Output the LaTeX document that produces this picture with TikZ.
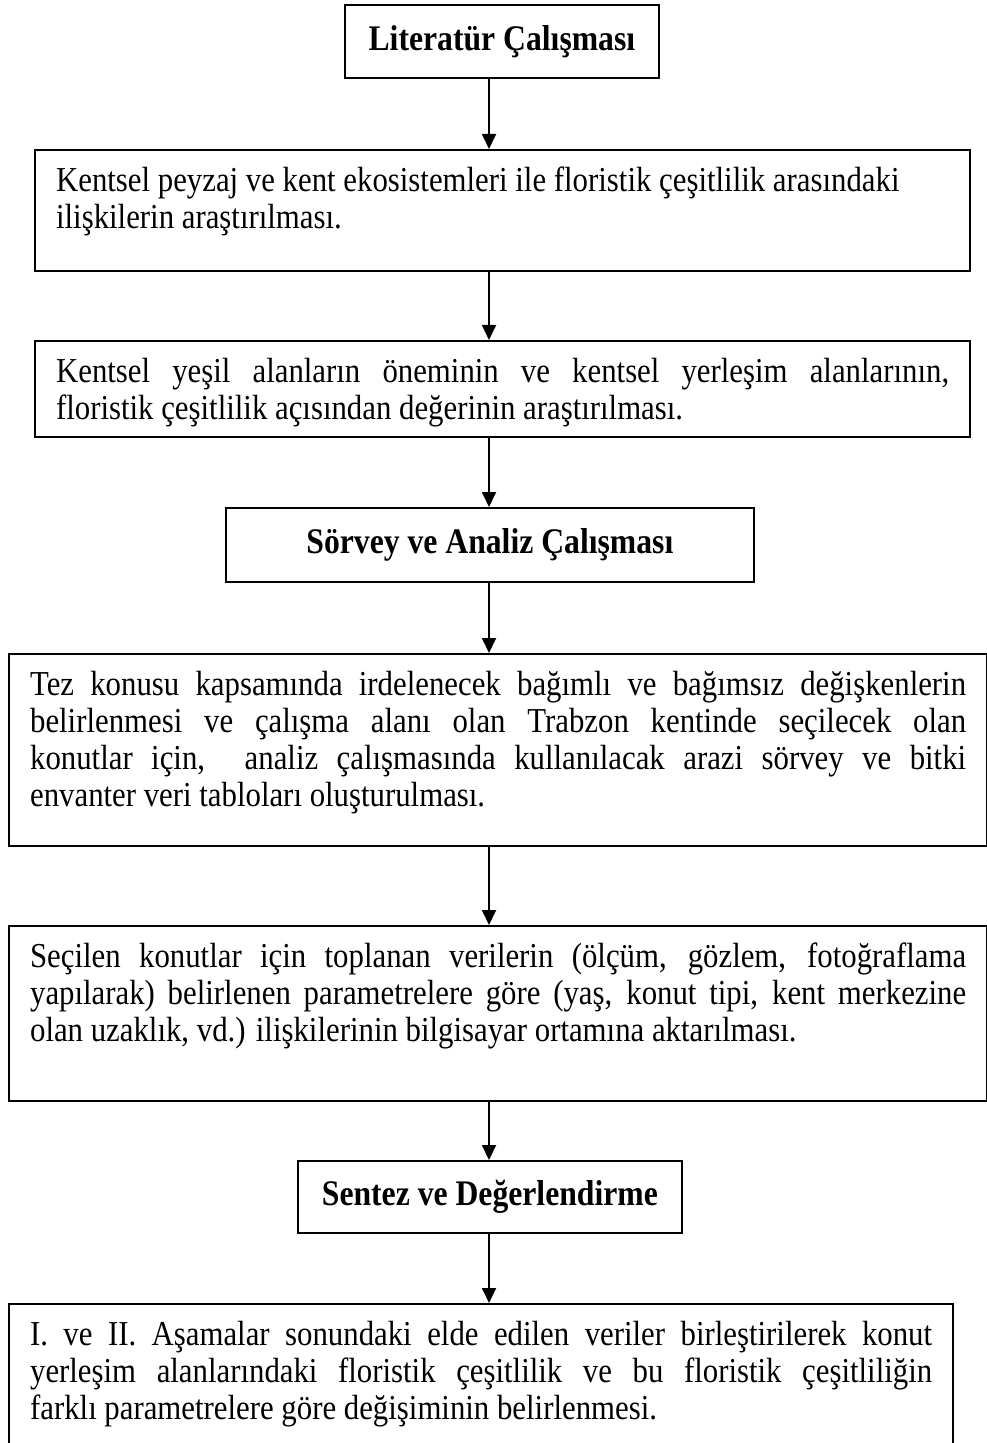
\documentclass[tikz,border=0pt]{standalone}
\usepackage{fontspec}
\setmainfont[FakeStretch=0.88]{Liberation Serif}
\usetikzlibrary{arrows.meta,positioning}
\tikzset{stage/.style={draw, line width=0.9pt, inner sep=0pt, anchor=north west, font=\fontsize{18}{20}\selectfont\bfseries}}
\tikzset{detail/.style={draw, line width=1.1pt, inner xsep=10.5pt, inner ysep=8.5pt, anchor=north west, font=\fontsize{17.5}{18.5}\selectfont}}
\tikzset{flow/.style={line width=0.9pt, -{Triangle[width=7pt,length=7.5pt]}}}
\newcommand{\stagetext}[3]{\parbox[t][#2][t]{#1}{#3}}

\begin{document}
\begin{tikzpicture}[x=0.5pt,y=-0.5pt]
\useasboundingbox (0,0) rectangle (986,1443);
\coordinate (axis) at (489,0);

\node[stage, minimum width=157pt, minimum height=36.5pt] (lit) at (344,4) {Literatür Çalışması};
\node[detail] (rel) at (34,149) {\stagetext{446.5pt}{43.5pt}{\raggedright Kentsel peyzaj ve kent ekosistemleri ile floristik çeşitlilik arasındaki\\ ilişkilerin araştırılması.}};
\node[detail] (green) at (34,340) {\stagetext{446.5pt}{31pt}{Kentsel yeşil alanların öneminin ve kentsel yerleşim alanlarının,\linebreak floristik çeşitlilik açısından değerinin araştırılması.}};
\node[stage, minimum width=264pt, minimum height=37pt] (survey) at (225,507) {Sörvey ve Analiz Çalışması};
\node[detail] (vars) at (8,653) {\stagetext{468pt}{79pt}{Tez konusu kapsamında irdelenecek bağımlı ve bağımsız değişkenlerin\linebreak belirlenmesi ve çalışma alanı olan Trabzon kentinde seçilecek olan\linebreak konutlar için,~ analiz çalışmasında kullanılacak arazi sörvey ve bitki\linebreak envanter veri tabloları oluşturulması.}};
\node[detail] (data) at (8,925) {\stagetext{468pt}{70.5pt}{Seçilen konutlar için toplanan verilerin (ölçüm, gözlem, fotoğraflama\linebreak yapılarak) belirlenen parametrelere göre (yaş, konut tipi, kent merkezine\linebreak olan uzaklık, vd.) ilişkilerinin bilgisayar ortamına aktarılması.}};
\node[stage, minimum width=192pt, minimum height=36pt] (synth) at (297,1160) {Sentez ve Değerlendirme};
\node[detail] (result) at (8,1303) {\stagetext{451pt}{62pt}{I. ve II. Aşamalar sonundaki elde edilen veriler birleştirilerek konut\linebreak yerleşim alanlarındaki floristik çeşitlilik ve bu floristik çeşitliliğin\linebreak farklı parametrelere göre değişiminin belirlenmesi.}};

\draw[flow] (lit.south -| axis) -- (rel.north -| axis);
\draw[flow] (rel.south -| axis) -- (green.north -| axis);
\draw[flow] (green.south -| axis) -- (survey.north -| axis);
\draw[flow] (survey.south -| axis) -- (vars.north -| axis);
\draw[flow] (vars.south -| axis) -- (data.north -| axis);
\draw[flow] (data.south -| axis) -- (synth.north -| axis);
\draw[flow] (synth.south -| axis) -- (result.north -| axis);
\end{tikzpicture}
\end{document}
